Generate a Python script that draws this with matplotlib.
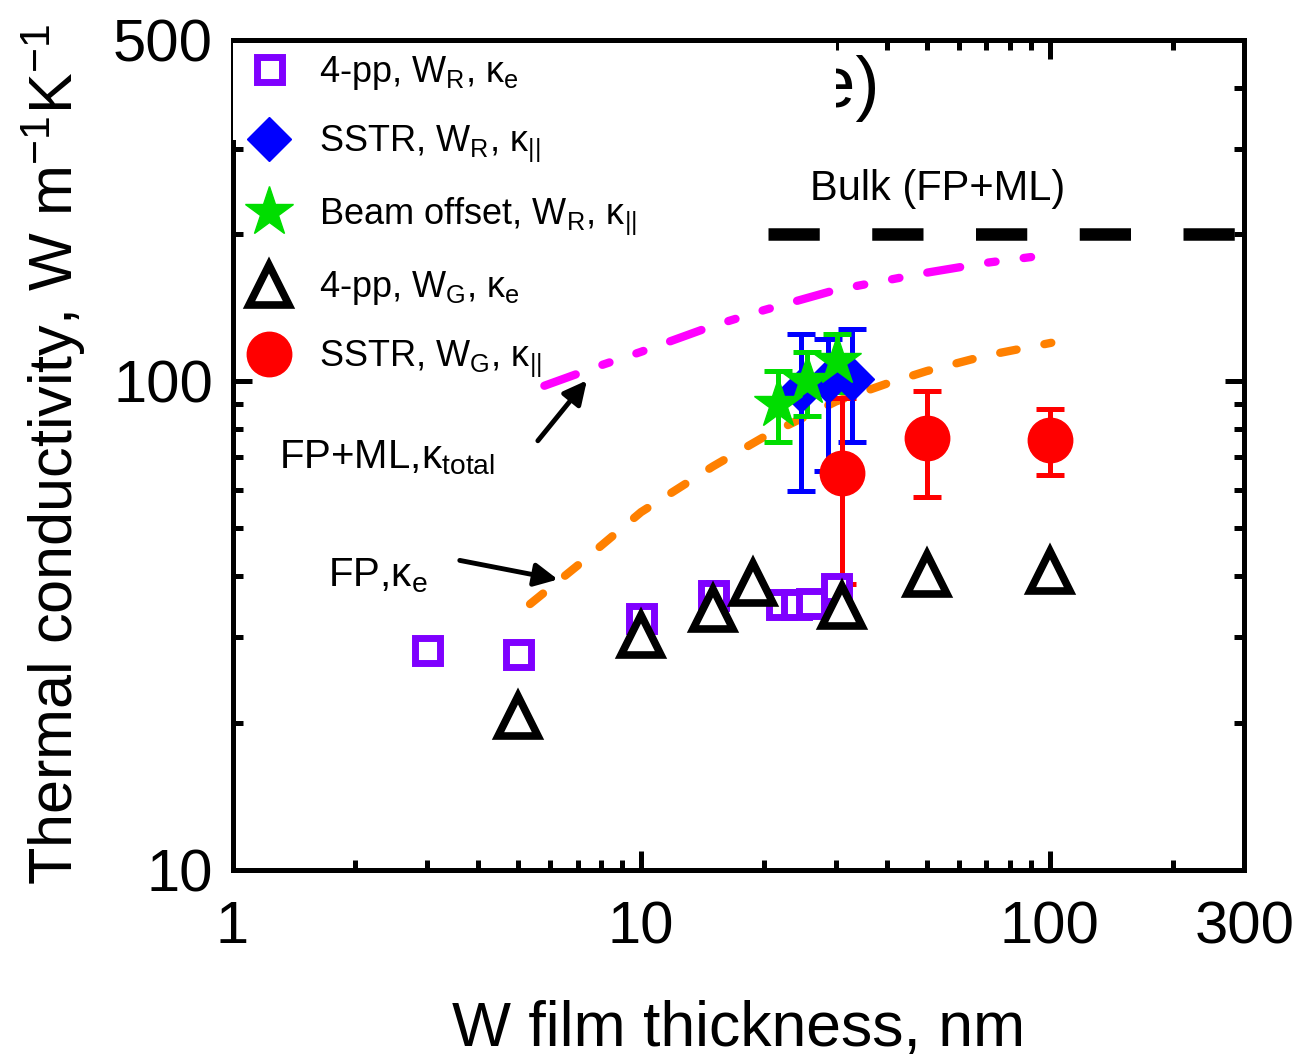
import matplotlib
matplotlib.use("Agg")
import matplotlib.pyplot as plt
from matplotlib.patches import Rectangle
from matplotlib.ticker import LogLocator, NullFormatter

plt.rcParams['font.family'] = 'Liberation Sans'
plt.rcParams['mathtext.fontset'] = 'custom'
plt.rcParams['mathtext.rm'] = 'Liberation Sans'
plt.rcParams['mathtext.it'] = 'Liberation Sans:italic'
plt.rcParams['mathtext.bf'] = 'Liberation Sans:bold'

# 4-pp on W_R films (kappa_e)
pp_r_x = [3, 5, 10, 15, 22, 24, 26, 30]
pp_r_y = [28.2, 27.6, 32.7, 36.5, 35.0, 35.0, 35.2, 37.8]

# SSTR on W_R films (kappa_parallel)
sstr_r_x = [24.7, 28.7, 32.9]
sstr_r_y = [96, 100, 101]
sstr_r_lo = [36.3, 34.4, 26]
sstr_r_hi = [29, 22, 27]

# beam offset on W_R films
beam_x = [21.7, 25.5, 30.2]
beam_y = [90, 100, 110]
beam_err = [15, 15, 15]

# 4-pp on W_G films
pp_g_x = [5, 10, 15, 18.8, 31, 50, 100]
pp_g_y = [20.6, 30.3, 34.2, 38.6, 34.6, 40.3, 41.0]
pp_g_lo = [0.5, 1.0, 1.0, 1.0, 1.0, 1.0, 1.0]
pp_g_hi = [0.8, 3.0, 4.3, 1.0, 4.5, 1.0, 1.0]

# SSTR on W_G films
sstr_g_x = [31, 50, 100]
sstr_g_y = [65, 76.5, 76]
sstr_g_lo = [26.6, 18.5, 11.6]
sstr_g_hi = [27.7, 19.3, 12.0]

labels = ['4-pp, W$_\\mathrm{R}$, κ$_\\mathrm{e}$',
          'SSTR, W$_\\mathrm{R}$, κ$_{||}$',
          'Beam offset, W$_\\mathrm{R}$, κ$_{||}$',
          '4-pp, W$_\\mathrm{G}$, κ$_\\mathrm{e}$',
          'SSTR, W$_\\mathrm{G}$, κ$_{||}$']

# models
fp_ml_x = [5.8, 8, 10, 15, 20, 30, 50, 70, 101]
fp_ml_y = [98, 108, 115, 130, 140, 154, 167, 175, 182]
fp_x = [5.35, 7, 10, 15, 20, 30, 40, 50, 70, 101]
fp_y = [35, 42, 54, 67, 77, 91, 99, 105, 113, 120]
bulk_x = [20.5, 300]
bulk_y = [200, 200]

fig = plt.figure(figsize=(12.99, 10.58), dpi=100)
ax = fig.add_axes([0.179, 0.178, 0.779, 0.784])
ax.set_xscale('log')
ax.set_yscale('log')

ax.plot(bulk_x, bulk_y, color='black', lw=9, dashes=[4.1, 4.2], dash_capstyle='butt')
ax.plot(fp_ml_x, fp_ml_y, color='#FF00FF', lw=6,
        dashes=[4.0, 3.4, 0.9, 3.4, 0.9, 3.4], dash_capstyle='round')
ax.plot(fp_x, fp_y, color='#FF8000', lw=6, dashes=[2.0, 3.4], dash_capstyle='round')

eb = dict(elinewidth=3.6, capsize=10, capthick=3.6, ls='none')
h1 = ax.errorbar(pp_r_x, pp_r_y, fmt='s', ms=18, mfc='white', mec='#7F00FF', mew=5,
                 color='#7F00FF', **eb)
h2 = ax.errorbar(sstr_r_x, sstr_r_y, yerr=[sstr_r_lo, sstr_r_hi], fmt='D', ms=22,
                 color='#0000FF', **eb)
h3 = ax.errorbar(beam_x, beam_y, yerr=beam_err, fmt='*', ms=37, color='#00DD00', **eb)
h4 = ax.errorbar(pp_g_x, pp_g_y, yerr=[pp_g_lo, pp_g_hi], fmt='^', ms=29, mfc='white',
                 mec='black', mew=5.5, color='black',
                 elinewidth=3.6, capsize=5, capthick=3.6, ls='none')
h5 = ax.errorbar(sstr_g_x, sstr_g_y, yerr=[sstr_g_lo, sstr_g_hi], fmt='o', ms=32,
                 color='#FF0000', **eb)

ax.set_xlim(1, 300)
ax.set_ylim(10, 500)

# panel label, partly hidden behind the legend box
ax.text(38.5, 365, '(e)', fontsize=52, ha='right', va='baseline')
ax.add_patch(Rectangle((0, 0.88), 0.5964, 0.117, transform=ax.transAxes,
                       facecolor='white', edgecolor='none', zorder=3))

handles = [h[0] for h in (h1, h2, h3, h4, h5)]
leg = ax.legend(handles, labels, loc='upper left', bbox_to_anchor=(0, 1.005),
                borderaxespad=0, borderpad=0.5, frameon=False, fontsize=26,
                handlelength=1.0, handletextpad=0.9, labelspacing=0.88)
leg.set_zorder(6)

ax.text(25.9, 235, 'Bulk (FP+ML)', fontsize=30)
ax.text(1.30, 66.5, 'FP+ML,κ$_\\mathrm{total}$', fontsize=29)
ax.text(1.71, 38.0, 'FP,κ$_\\mathrm{e}$', fontsize=29)
arrow = dict(arrowstyle='-|>', lw=3.5, color='black', mutation_scale=35, shrinkA=0, shrinkB=0)
ax.annotate('', xy=(7.37, 100.5), xytext=(5.59, 75.6), arrowprops=arrow)
ax.annotate('', xy=(6.26, 39.3), xytext=(3.6, 43.0), arrowprops=arrow)

ax.set_xticks([1, 10, 100, 300], ['1', '10', '100', '300'])
ax.set_yticks([10, 100, 500], ['10', '100', '500'])
ax.xaxis.set_minor_locator(LogLocator(base=10, subs=range(2, 10)))
ax.yaxis.set_minor_locator(LogLocator(base=10, subs=range(2, 10)))
ax.xaxis.set_minor_formatter(NullFormatter())
ax.yaxis.set_minor_formatter(NullFormatter())
ax.tick_params(which='both', direction='in', top=True, right=True, width=3.6, labelsize=43)
ax.tick_params(which='major', length=14)
ax.tick_params(axis='x', which='major', pad=22)
ax.tick_params(axis='y', which='major', pad=14)
ax.tick_params(which='minor', length=7)
for s in ax.spines.values():
    s.set_linewidth(3.6)

ax.set_xlabel('W film thickness, nm', fontsize=45, labelpad=32)
ax.set_ylabel('Thermal conductivity, W m$^{-1}$K$^{-1}$', fontsize=44, labelpad=18)

fig.savefig('out.png', dpi=100)
